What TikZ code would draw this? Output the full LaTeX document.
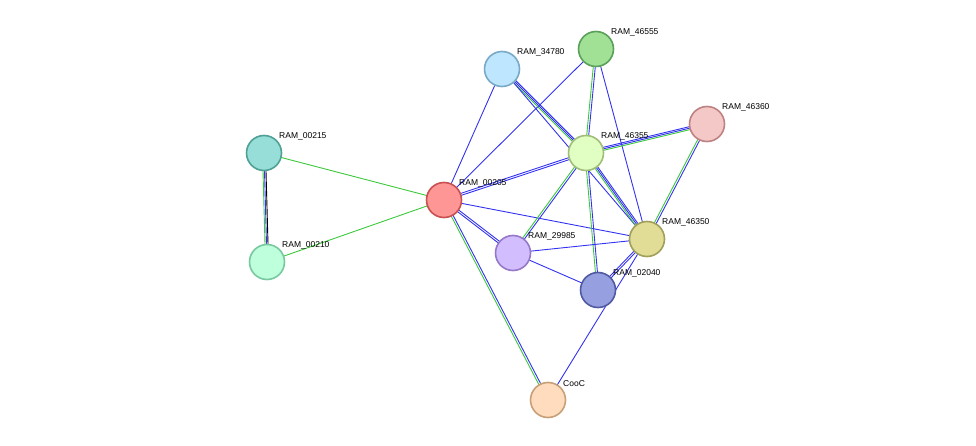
\documentclass[tikz,border=0pt]{standalone}
\usepackage{fontspec}
\setmainfont{Liberation Sans}
\usetikzlibrary{calc}
\pgfdeclarelayer{bg}
\pgfsetlayers{bg,main}
\definecolor{lgreen}{RGB}{60,200,60}
\definecolor{lblue}{RGB}{50,50,240}
\definecolor{f215}{RGB}{150,222,215}\definecolor{d215}{RGB}{80,160,150}
\definecolor{f210}{RGB}{190,255,220}\definecolor{d210}{RGB}{120,200,160}
\definecolor{f205}{RGB}{255,150,150}\definecolor{d205}{RGB}{200,80,80}
\definecolor{f34780}{RGB}{190,230,255}\definecolor{d34780}{RGB}{120,170,200}
\definecolor{f46555}{RGB}{160,225,150}\definecolor{d46555}{RGB}{90,160,90}
\definecolor{f46355}{RGB}{225,255,195}\definecolor{d46355}{RGB}{160,190,120}
\definecolor{f46360}{RGB}{245,200,200}\definecolor{d46360}{RGB}{190,130,130}
\definecolor{f46350}{RGB}{225,220,150}\definecolor{d46350}{RGB}{160,160,90}
\definecolor{f29985}{RGB}{210,190,255}\definecolor{d29985}{RGB}{150,120,200}
\definecolor{f02040}{RGB}{150,160,225}\definecolor{d02040}{RGB}{80,90,160}
\definecolor{fcooc}{RGB}{255,220,190}\definecolor{dcooc}{RGB}{200,160,120}
\newcommand\lnk[3]{\foreach \c/\o in {#3}
  \draw[edge,\c] ($(#1)!\o pt!90:(#2)$) -- ($(#2)!\o pt!-90:(#1)$);}
\begin{document}
\begin{tikzpicture}
[x=1pt,y=-1pt,
 prot/.style={shape=circle,draw=d#1,fill=f#1,line width=1.6pt,minimum size=35pt,inner sep=0pt},
 lbl/.style={anchor=south west,inner sep=1pt,font=\fontsize{8.5}{10}\selectfont},
 edge/.style={line width=0.9pt}]
\useasboundingbox (0,0) rectangle (976,446);

\node (n215) [prot=215,label={[lbl]40:RAM\_00215}] at (264,153) {};
\node (n210) [prot=210,label={[lbl]40:RAM\_00210}] at (267,262) {};
\node (n205) [prot=205,label={[lbl]40:RAM\_00205}] at (444,200) {};
\node (n34780) [prot=34780,label={[lbl]40:RAM\_34780}] at (502,69) {};
\node (n46555) [prot=46555,label={[lbl]40:RAM\_46555}] at (596,49) {};
\node (n46355) [prot=46355,label={[lbl]40:RAM\_46355}] at (586,153) {};
\node (n46360) [prot=46360,label={[lbl]40:RAM\_46360}] at (707,124) {};
\node (n46350) [prot=46350,label={[lbl]40:RAM\_46350}] at (647,239) {};
\node (n29985) [prot=29985,label={[lbl]40:RAM\_29985}] at (513,253) {};
\node (n02040) [prot=02040,label={[lbl]40:RAM\_02040}] at (598,290) {};
\node (ncooc) [prot=cooc,label={[lbl]40:CooC}] at (548,400) {};

\begin{pgfonlayer}{bg}
\lnk{n215}{n205}{lgreen/0}
\lnk{n210}{n205}{lgreen/0}
\lnk{n215}{n210}{lgreen/-1.5,lblue/0,black/1.5}
\lnk{n205}{n34780}{lblue/0}
\lnk{n205}{n46555}{lblue/0}
\lnk{n205}{n46355}{lblue/-1,lblue/1}
\lnk{n205}{n46350}{lblue/0}
\lnk{n205}{n29985}{lblue/-1,lblue/1}
\lnk{n205}{ncooc}{lgreen/-1,lblue/1}
\lnk{n34780}{n46355}{lgreen/-1.5,lblue/0,lblue/1.5}
\lnk{n34780}{n46350}{lblue/0}
\lnk{n46555}{n46355}{lgreen/-1,lblue/1}
\lnk{n46555}{n46350}{lblue/0}
\lnk{n46355}{n46360}{lgreen/-1.5,lblue/0,lblue/1.5}
\lnk{n46355}{n46350}{lgreen/-1.5,lblue/0,lblue/1.5}
\lnk{n46355}{n29985}{lgreen/-1,lblue/1}
\lnk{n46355}{n02040}{lgreen/-1,lblue/1}
\lnk{n46360}{n46350}{lgreen/-1,lblue/1}
\lnk{n29985}{n46350}{lblue/0}
\lnk{n29985}{n02040}{lblue/0}
\lnk{n46350}{n02040}{lblue/-1,lblue/1}
\lnk{n46350}{ncooc}{lblue/0}
\end{pgfonlayer}
\end{tikzpicture}
\end{document}
